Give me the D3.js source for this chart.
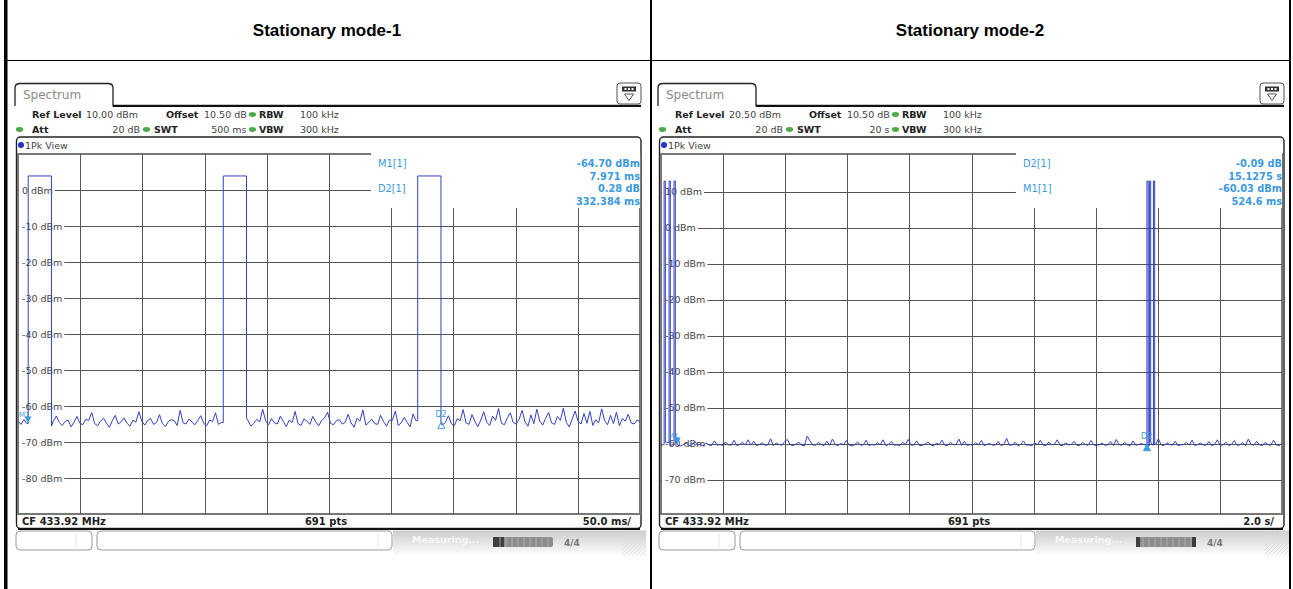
<!DOCTYPE html>
<html><head><meta charset="utf-8">
<script src="https://cdn.jsdelivr.net/npm/d3@7"></script>
<style>html,body{margin:0;padding:0;background:#fff;overflow:hidden}</style>
</head><body><svg id="c" width="1293" height="589"></svg>
<script>
// ---------------- data ----------------
const titles = ["Stationary mode-1", "Stationary mode-2"];
const refLevelText = ["10.00 dBm", "20.50 dBm"];
const offsetText = ["10.50 dB", "10.50 dB"];
const rbwText = ["100 kHz", "100 kHz"];
const attText = ["20 dB", "20 dB"];
const swtText = ["500 ms", "20 s"];
const vbwText = ["300 kHz", "300 kHz"];
const timeSpan = [500, 20];          // ms, s
const refLevel = [10, 20.5];         // dBm at top of grid
const divText = ["50.0 ms/", "2.0 s/"];
const cfText = "CF 433.92 MHz";
const ptsText = "691 pts";
const levelTicksLeft = [0, -10, -20, -30, -40, -50, -60, -70, -80];
const levelTicksRight = [10, 0, -10, -20, -30, -40, -50, -60, -70];

const noiseLeft = [
-64.2,-65.1,-63.8,-64.9,-65.6,-64.0,-63.2,-64.7,-65.3,-64.4,
-63.6,-65.0,-64.1,-62.8,-64.6,-65.4,-64.3,-63.9,-65.8,-64.5,
-62.9,-64.8,-65.2,-63.7,-64.0,-61.8,-64.9,-65.5,-64.2,-63.4,
-64.7,-65.9,-64.1,-62.6,-65.0,-64.4,-63.3,-64.8,-65.6,-63.9,
-64.5,-61.6,-64.2,-65.3,-64.0,-63.5,-65.1,-64.6,-62.4,-64.9,
-65.7,-64.3,-63.8,-64.1,-65.4,-61.2,-64.7,-65.0,-63.6,-64.4,
-65.2,-64.0,-62.7,-64.8,-65.5,-63.9,-64.3,-61.9,-65.1,-64.6,
-63.4,-64.9,-65.8,-64.2,-63.1,-64.5,-65.3,-62.5,-64.0,-65.6,
-64.8,-63.7,-64.4,-60.9,-64.1,-65.2,-63.5,-64.7,-65.0,-62.8,
-64.3,-65.7,-63.9,-64.6,-61.5,-64.9,-65.4,-63.6,-64.2,-65.1,
-62.9,-64.4,-65.5,-64.0,-63.3,-61.7,-64.8,-65.2,-64.1,-63.8,
-65.0,-64.5,-62.3,-64.7,-65.9,-63.4,-64.2,-61.1,-65.3,-64.6,
-63.7,-64.9,-65.1,-62.6,-64.3,-65.6,-63.9,-64.0,-61.4,-65.4,
-64.7,-63.2,-64.5,-65.8,-62.2,-64.1,-65.0,-63.6,-60.8,-64.8,
-65.3,-63.8,-64.4,-61.3,-65.2,-64.6,-62.7,-64.9,-65.5,-63.5,
-64.1,-61.0,-64.7,-65.1,-62.4,-64.3,-65.7,-63.9,-61.6,-64.5,
-65.4,-62.8,-64.0,-60.7,-64.8,-65.2,-63.3,-61.9,-64.6,-65.0,
-63.7,-61.2,-64.4,-65.6,-62.5,-64.9,-60.9,-64.2,-65.3,-63.4,
-61.8,-64.7,-65.1,-62.9,-64.0,-60.6,-64.5,-65.8,-63.6,-61.4,
-64.3,-65.0,-62.1,-64.8,-61.5,-65.4,-63.8,-64.6,-60.8,-64.1,
-65.2,-62.6,-64.9,-61.7,-65.5,-63.5,-64.2,-62.3,-64.7,-65.0,
-63.9,-64.4];

const noiseRight = [
-60.4,-60.2,-59.6,-60.5,-60.3,-59.1,-60.4,-60.6,-60.2,-59.8,
-60.5,-60.3,-59.4,-60.4,-60.1,-60.6,-59.7,-60.3,-60.5,-59.2,
-60.4,-60.2,-60.5,-59.5,-60.3,-60.4,-59.0,-60.5,-60.2,-59.6,
-60.3,-58.9,-60.4,-59.3,-60.5,-60.2,-59.7,-60.4,-60.3,-58.6,
-60.5,-59.8,-60.2,-60.4,-59.4,-58.8,-60.3,-60.5,-60.1,-59.5,
-60.4,-60.6,-57.9,-59.2,-60.3,-60.4,-59.6,-60.2,-60.5,-59.3,
-60.4,-58.7,-60.2,-60.5,-59.9,-60.3,-59.1,-60.4,-60.6,-60.2,
-59.5,-60.4,-60.3,-59.0,-60.5,-60.2,-60.4,-59.7,-60.3,-58.9,
-60.5,-60.2,-59.4,-60.4,-60.3,-60.5,-59.6,-60.2,-58.8,-60.4,
-60.3,-59.2,-60.5,-60.4,-60.1,-59.5,-60.3,-60.6,-59.8,-60.2,
-59.0,-60.4,-60.5,-59.6,-60.3,-60.2,-58.7,-60.4,-59.3,-60.5,
-60.2,-60.4,-59.7,-60.3,-59.1,-60.5,-60.2,-59.9,-60.4,-60.3,
-59.4,-60.5,-60.2,-58.5,-60.4,-60.3,-59.6,-60.5,-60.2,-59.2,
-60.4,-60.3,-60.5,-59.8,-60.2,-59.0,-60.4,-60.5,-59.5,-60.3,
-60.2,-58.9,-60.4,-60.5,-59.7,-60.3,-60.2,-59.3,-60.4,-60.5,
-59.6,-60.2,-60.4,-59.1,-60.3,-60.5,-60.2,-59.8,-60.4,-60.3,
-59.4,-60.5,-58.8,-60.2,-60.4,-59.6,-60.3,-60.5,-59.2,-60.4,
-60.2,-59.9,-60.3,-60.5,-59.5,-60.4,-60.2,-58.6,-60.3,-60.5,
-59.7,-60.2,-60.4,-59.3,-60.5,-60.3,-60.2,-59.6,-60.4,-59.0,
-60.5,-60.2,-59.8,-60.3,-60.4,-59.4,-60.5,-60.2,-58.9,-60.4,
-60.3,-59.5,-60.5,-60.2,-59.1,-60.4,-60.3,-59.7,-60.5,-58.7,
-60.2,-60.4,-59.3,-60.3,-60.5,-59.6,-60.2,-60.4,-59.0,-60.3,
-60.5,-59.8];

const pulsesLeft = [[8.2, 26.9], [165.0, 183.7], [321.3, 340.0]];
const pulsesRight = [[0.10, 0.14], [0.26, 0.30], [0.42, 0.46], [15.65, 15.69], [15.73, 15.77], [15.86, 15.90]];
const pulseLevel = [3.9, 13.0];

const markersLeft = [{name: "M1", t: 7.971, v: -64.70, delta: false}, {name: "D2", t: 340.355, v: -64.42, delta: true}];
const markersRight = [{name: "M1", t: 0.5246, v: -60.03, delta: false}, {name: "D2", t: 15.6521, v: -60.12, delta: true, fill: true}];
const infoLeft = [["M1[1]", "-64.70 dBm", "7.971 ms"], ["D2[1]", "0.28 dB", "332.384 ms"]];
const infoRight = [["D2[1]", "-0.09 dB", "15.1275 s"], ["M1[1]", "-60.03 dBm", "524.6 ms"]];

// ---------------- drawing ----------------
const svg = d3.select("#c");
const FONT = "'DejaVu Sans', Verdana, sans-serif";
const traceColor = "#3340c4";
const mkColor = "#3c9ade";

// outer table
svg.append("rect").attr("x", 4).attr("y", 0).attr("width", 3.5).attr("height", 589).attr("fill", "#000");
svg.append("rect").attr("x", 650).attr("y", 0).attr("width", 2).attr("height", 589).attr("fill", "#000");
svg.append("rect").attr("x", 1289).attr("y", 0).attr("width", 2).attr("height", 589).attr("fill", "#000");
svg.append("rect").attr("x", 4).attr("y", 60).attr("width", 1287).attr("height", 1).attr("fill", "#000");
titles.forEach((t, i) => {
  svg.append("text").attr("x", i === 0 ? 327 : 970).attr("y", 36).attr("text-anchor", "middle")
    .attr("font-family", "'Liberation Sans', Arial, sans-serif").attr("font-weight", "bold")
    .attr("font-size", 17).attr("fill", "#000").text(t);
});

const defs = svg.append("defs");
const grad = defs.append("linearGradient").attr("id", "sg").attr("x1", 0).attr("y1", 0).attr("x2", 0).attr("y2", 1);
grad.append("stop").attr("offset", "0%").attr("stop-color", "#cdcdcd");
grad.append("stop").attr("offset", "100%").attr("stop-color", "#ffffff");
[0, 1].forEach(i => {
  defs.append("clipPath").attr("id", "hc" + i).append("rect")
    .attr("x", 622).attr("y", 530).attr("width", 24).attr("height", 26);
});

function buildTrace(noise, pulses, level, span) {
  const step = span / (noise.length - 1);
  const pts = [];
  let pi = 0;
  noise.forEach((v, i) => {
    const t = i * step;
    while (pi < pulses.length && pulses[pi][0] <= t) {
      const [s, e] = pulses[pi];
      const base = pts.length ? pts[pts.length - 1][1] : v;
      pts.push([s, base], [s, level], [e, level], [e, v]);
      pi++;
    }
    const inside = pulses.some(([s, e]) => t >= s && t <= e);
    if (!inside) pts.push([t, v]);
  });
  return pts;
}

function txt(g, x, y, s, opt = {}) {
  return g.append("text").attr("x", x).attr("y", y)
    .attr("font-family", FONT).attr("font-size", opt.size || 9.5)
    .attr("font-weight", opt.bold ? "bold" : "normal")
    .attr("fill", opt.fill || "#333")
    .attr("text-anchor", opt.anchor || "start").text(s);
}

function drawPanel(i) {
  const ox = i === 0 ? 0 : 643;
  const g = svg.append("g").attr("transform", `translate(${ox},0)`);
  const x0 = 18, x1 = i === 0 ? 640 : 639, y0 = 154, y1 = 514;
  const x = d3.scaleLinear().domain([0, timeSpan[i]]).range([x0, x1]);
  const y = d3.scaleLinear().domain([refLevel[i], refLevel[i] - 100]).range([y0, y1]);
  const ticks = i === 0 ? levelTicksLeft : levelTicksRight;

  // tab
  g.append("path").attr("d", "M15,106 L15,88 Q15,83.5 20,83.5 L108,83.5 Q113,83.5 113,88 L113,105.5 L641,105.5")
    .attr("fill", "none").attr("stroke", "#222").attr("stroke-width", 1.3);
  g.append("line").attr("x1", 113).attr("x2", 641).attr("y1", 106).attr("y2", 106).attr("stroke", "#111").attr("stroke-width", 2);
  txt(g, 23, 99, "Spectrum", {size: 12, fill: "#8a8a8a"});
  // icon
  g.append("rect").attr("x", 617).attr("y", 83).attr("width", 24).attr("height", 21).attr("rx", 3)
    .attr("fill", "#fafafa").attr("stroke", "#555").attr("stroke-width", 1);
  g.append("rect").attr("x", 622).attr("y", 86.5).attr("width", 14).attr("height", 5).attr("fill", "#333");
  [624.5, 628, 631.5].forEach(cx => g.append("rect").attr("x", cx).attr("y", 88).attr("width", 2).attr("height", 2).attr("fill", "#fff"));
  g.append("path").attr("d", "M624.5,94 L633.5,94 L629,100.5 Z").attr("fill", "none").attr("stroke", "#555").attr("stroke-width", 1);

  // header rows
  const hs = 9.5;
  const dot = (cx, cy) => g.append("ellipse").attr("cx", cx).attr("cy", cy).attr("rx", 3.6).attr("ry", 2.4).attr("fill", "#4caa4c");
  txt(g, 32, 118, "Ref Level", {bold: true, size: hs, fill: "#222"});
  txt(g, 86, 118, refLevelText[i], {size: hs, fill: "#444"});
  txt(g, 166, 118, "Offset", {bold: true, size: hs, fill: "#222"});
  txt(g, 204, 118, offsetText[i], {size: hs, fill: "#444"});
  dot(252.5, 114.5);
  txt(g, 259, 118, "RBW", {bold: true, size: hs, fill: "#222"});
  txt(g, 300, 118, rbwText[i], {size: hs, fill: "#444"});
  dot(19.5, 129.5);
  txt(g, 32, 133, "Att", {bold: true, size: hs, fill: "#222"});
  txt(g, 140, 133, attText[i], {size: hs, fill: "#444", anchor: "end"});
  dot(146.5, 129.5);
  txt(g, 154, 133, "SWT", {bold: true, size: hs, fill: "#222"});
  txt(g, 246.5, 133, swtText[i], {size: hs, fill: "#444", anchor: "end"});
  dot(252.5, 129.5);
  txt(g, 259, 133, "VBW", {bold: true, size: hs, fill: "#222"});
  txt(g, 300, 133, vbwText[i], {size: hs, fill: "#444"});

  // frame
  g.append("rect").attr("x", 16.5).attr("y", 137).attr("width", 624.5).attr("height", 391.5).attr("rx", 4)
    .attr("fill", "#fff").attr("stroke", "#222").attr("stroke-width", 1.4);
  g.append("line").attr("x1", 18).attr("x2", 640).attr("y1", 529).attr("y2", 529).attr("stroke", "#111").attr("stroke-width", 2);
  g.append("circle").attr("cx", 21).attr("cy", 145).attr("r", 3).attr("fill", "#1f35c8");
  txt(g, 25, 149, "1Pk View", {size: 9.5, fill: "#444"});

  // plot area border
  g.append("rect").attr("x", x0).attr("y", y0).attr("width", x1 - x0).attr("height", y1 - y0)
    .attr("fill", "none").attr("stroke", "#777").attr("stroke-width", 1.2).attr("shape-rendering", "crispEdges");

  // grid via axes
  const vt = d3.range(1, 10).map(k => k * timeSpan[i] / 10);
  g.append("g").attr("transform", `translate(0,${y0})`)
    .call(d3.axisTop(x).tickValues(vt).tickSize(-(y1 - y0)).tickFormat(""))
    .call(a => a.select(".domain").remove())
    .call(a => a.selectAll("line").attr("stroke", "#555").attr("shape-rendering", "crispEdges"));
  g.append("g").attr("transform", `translate(${x0},0)`)
    .call(d3.axisLeft(y).tickValues(ticks).tickSize(-(x1 - x0)).tickFormat(""))
    .call(a => a.select(".domain").remove())
    .call(a => a.selectAll("line").attr("stroke", "#555").attr("shape-rendering", "crispEdges"));

  // level labels with white background
  ticks.forEach(t => {
    const lab = txt(g, x0 + 4, y(t) + 3.5, `${t} dBm`, {size: 9.5, fill: "#444"});
    const w = lab.node().getComputedTextLength();
    g.insert("rect", () => lab.node()).attr("x", x0 + 1).attr("y", y(t) - 5).attr("width", w + 5).attr("height", 10).attr("fill", "#fff");
  });

  // marker info box
  const bx = i === 0 ? 371 : 373;
  g.append("rect").attr("x", bx).attr("y", 153).attr("width", x1 - bx).attr("height", 55).attr("fill", "#fff");
  const info = i === 0 ? infoLeft : infoRight;
  info.forEach((row, r) => {
    txt(g, bx + 7, 167 + r * 25, row[0], {size: 9.8, fill: mkColor});
    txt(g, x1, 167 + r * 25, row[1], {size: 9.8, bold: true, fill: mkColor, anchor: "end"});
    txt(g, x1, 180 + r * 25, row[2], {size: 9.8, bold: true, fill: mkColor, anchor: "end"});
  });

  // trace
  const pts = buildTrace(i === 0 ? noiseLeft : noiseRight, i === 0 ? pulsesLeft : pulsesRight, pulseLevel[i], timeSpan[i]);
  g.append("path").datum(pts)
    .attr("d", d3.line().x(d => x(d[0])).y(d => y(d[1])))
    .attr("fill", "none").attr("stroke", traceColor).attr("stroke-width", 1).attr("stroke-linejoin", "round");

  // markers
  (i === 0 ? markersLeft : markersRight).forEach(m => {
    const mx = x(m.t), my = y(m.v);
    if (m.delta) {
      g.append("path").attr("d", `M${mx},${my} L${mx - 3.5},${my + 6.5} L${mx + 3.5},${my + 6.5} Z`)
        .attr("fill", m.fill ? mkColor : "none").attr("stroke", mkColor).attr("stroke-width", 1);
      txt(g, mx - 6, my - 5, m.name, {size: 8, fill: mkColor});
    } else {
      g.append("path").attr("d", `M${mx},${my} L${mx - 3.5},${my - 6.5} L${mx + 3.5},${my - 6.5} Z`)
        .attr("fill", mkColor);
      txt(g, mx - 9, my - 5.5, m.name, {size: 7, fill: mkColor});
    }
  });

  // bottom info row
  txt(g, 22, 525, cfText, {size: 10, bold: true, fill: "#222"});
  txt(g, 326, 525, ptsText, {size: 10, bold: true, fill: "#222", anchor: "middle"});
  txt(g, 631, 525, divText[i], {size: 10, bold: true, fill: "#222", anchor: "end"});

  // status bar
  g.append("rect").attr("x", 393).attr("y", 530.5).attr("width", 253).attr("height", 26).attr("fill", "url(#sg)");
  g.append("rect").attr("x", 16).attr("y", 531).attr("width", 76).attr("height", 19).attr("rx", 4)
    .attr("fill", "#fff").attr("stroke", "#9a9a9a");
  g.append("line").attr("x1", 76).attr("x2", 76).attr("y1", 533).attr("y2", 548).attr("stroke", "#e4e4e4");
  g.append("rect").attr("x", 97).attr("y", 531).attr("width", 295).attr("height", 19).attr("rx", 4)
    .attr("fill", "#fff").attr("stroke", "#9a9a9a");
  g.append("line").attr("x1", 378).attr("x2", 378).attr("y1", 533).attr("y2", 548).attr("stroke", "#e4e4e4");
  txt(g, 412, 543, "Measuring...", {size: 9.5, bold: true, fill: "#f7f7f7"});
  g.append("rect").attr("x", 493).attr("y", 537).attr("width", 60).attr("height", 10).attr("rx", 2).attr("fill", "#8e8e8e");
  g.append("rect").attr("x", 493).attr("y", 537).attr("width", i === 0 ? 11 : 4).attr("height", 10).attr("fill", "#3e3e3e");
  if (i === 1) g.append("rect").attr("x", 549).attr("y", 537).attr("width", 4).attr("height", 10).attr("fill", "#3e3e3e");
  d3.range(500, 553, 6).forEach(sx => g.append("line").attr("x1", sx).attr("x2", sx).attr("y1", 537).attr("y2", 547).attr("stroke", "#b5b5b5").attr("stroke-width", 0.8));
  txt(g, 564, 546, "4/4", {size: 9, bold: true, fill: "#777"});
  const hg = g.append("g").attr("clip-path", `url(#hc${i})`);
  d3.range(600, 660, 4).forEach(hx => hg.append("line").attr("x1", hx).attr("y1", 556).attr("x2", hx + 26).attr("y2", 530)
    .attr("stroke", "#dadada").attr("stroke-width", 0.8));
}
drawPanel(0);
drawPanel(1);
</script></body></html>
